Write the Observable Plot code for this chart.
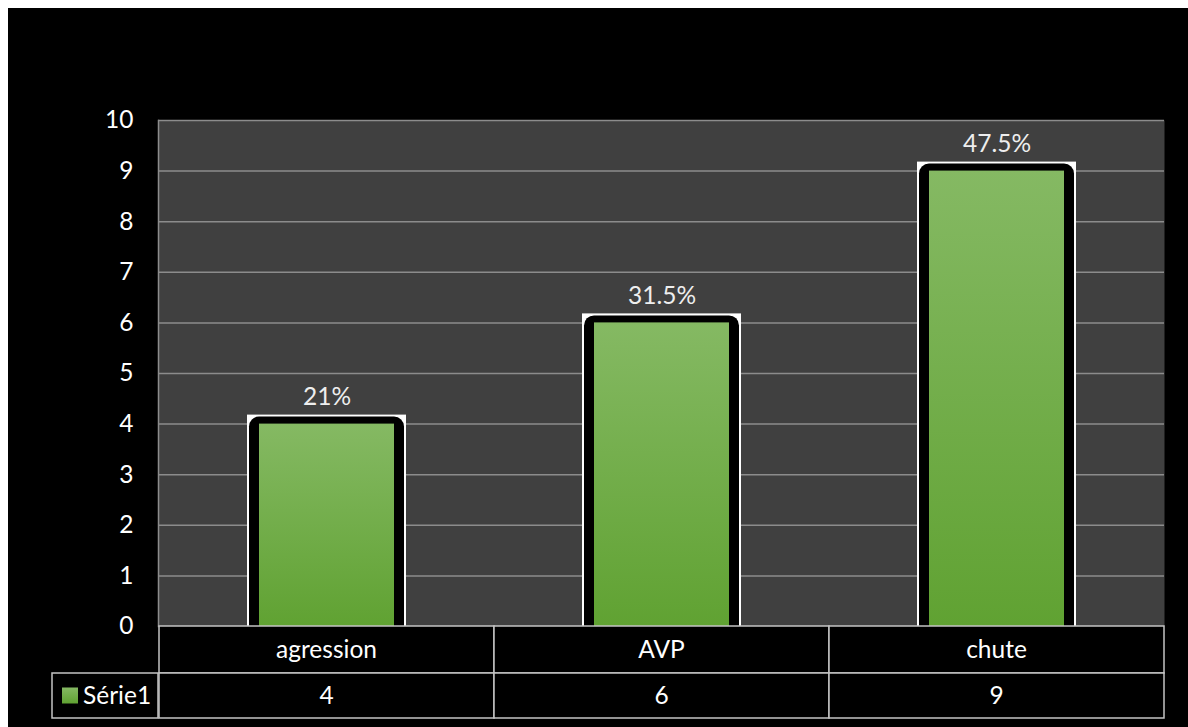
<!DOCTYPE html>
<html><head><meta charset="utf-8">
<script src="https://cdn.jsdelivr.net/npm/d3@7"></script>
<script src="https://cdn.jsdelivr.net/npm/@observablehq/plot@0.6"></script>
<style>
body{margin:0;background:#fff;}
#wrap{padding:8px 0 0 8px;}
svg{display:block}
</style></head><body><div id="wrap"></div>
<script>
const categories = ["agression", "AVP", "chute"];
const values = [4, 6, 9];
const percentLabels = ["21%", "31.5%", "47.5%"];
const yTicks = [0, 1, 2, 3, 4, 5, 6, 7, 8, 9, 10];
const seriesName = "Série1";

const data = categories.map((c, i) => ({category: c, value: values[i], label: percentLabels[i]}));

const FONT = "Lato, 'Open Sans', sans-serif";
const FS = 24.5;
const W = 1180, H = 719;
const mL = 150, mR = 24, mT = 112, mB = 101;
const rowH1 = 47, rowH2 = 45;

const plot = Plot.plot({
  width: W, height: H,
  marginLeft: mL, marginRight: mR, marginTop: mT, marginBottom: mB,
  style: {background: "#000", color: "#fff", fontFamily: FONT, overflow: "visible"},
  x: {domain: categories, padding: 0, axis: null},
  y: {domain: [0, 10], axis: null},
  marks: [
    Plot.frame({fill: "#404040", stroke: null}),
    Plot.ruleY(yTicks.filter(d => d > 0), {stroke: "#8c8c8c", strokeWidth: 1.5}),
    Plot.frame({anchor: "left", stroke: "#8c8c8c", strokeWidth: 1.5}),
    Plot.axisY({ticks: yTicks, tickSize: 0, tickPadding: 25, fontSize: FS, fill: "#fff", label: null, tickFormat: d => String(d)}),
    Plot.rectY(data, {x: "category", y: "value", fill: "#fff", insetLeft: 88, insetRight: 88, insetTop: -9, insetBottom: -20}),
    Plot.rectY(data, {x: "category", y: "value", fill: "#000", insetLeft: 90, insetRight: 90, insetTop: -7, insetBottom: -20, rx: 10}),
    Plot.rectY(data, {x: "category", y: "value", fill: "url(#barGrad)", insetLeft: 100, insetRight: 100}),
    Plot.text(data, {x: "category", y: "value", text: "label", dy: -27, fill: "#eeeeee", fontSize: FS})
  ]
});

document.getElementById("wrap").appendChild(plot);

const svg = d3.select(plot);
const defs = svg.insert("defs", ":first-child");
const g = defs.append("linearGradient").attr("id", "barGrad").attr("x1", 0).attr("y1", 0).attr("x2", 0).attr("y2", 1);
g.append("stop").attr("offset", "0%").attr("stop-color", "#85b963");
g.append("stop").attr("offset", "100%").attr("stop-color", "#60a232");

const xs = plot.scale("x");
const bw = xs.bandwidth;
const y0 = H - mB;
const tbl = svg.append("g").attr("font-family", FONT).attr("font-size", FS).attr("text-anchor", "middle");
const border = "#c4c4c4";

// category row
categories.forEach((c, i) => {
  const x = xs.apply(c);
  tbl.append("rect").attr("x", x).attr("y", y0).attr("width", bw).attr("height", rowH1)
    .attr("fill", "#000").attr("stroke", border).attr("stroke-width", 1.5);
  tbl.append("text").attr("x", x + bw / 2).attr("y", y0 + rowH1 / 2).attr("dy", "0.35em")
    .attr("fill", "#fff").text(c);
});
// values row
const y1 = y0 + rowH1;
categories.forEach((c, i) => {
  const x = xs.apply(c);
  tbl.append("rect").attr("x", x).attr("y", y1).attr("width", bw).attr("height", rowH2)
    .attr("fill", "#000").attr("stroke", border).attr("stroke-width", 1.5);
  tbl.append("text").attr("x", x + bw / 2).attr("y", y1 + rowH2 / 2).attr("dy", "0.35em")
    .attr("fill", "#fff").text(values[i]);
});
// legend cell
const legX = 44;
tbl.append("rect").attr("x", legX).attr("y", y1).attr("width", mL - legX).attr("height", rowH2)
  .attr("fill", "#000").attr("stroke", border).attr("stroke-width", 1.5);
tbl.append("rect").attr("x", legX + 10).attr("y", y1 + rowH2 / 2 - 8).attr("width", 16).attr("height", 16)
  .attr("fill", "url(#barGrad)");
tbl.append("text").attr("x", legX + 31).attr("y", y1 + rowH2 / 2).attr("dy", "0.35em")
  .attr("text-anchor", "start").attr("fill", "#fff").text(seriesName);
</script></body></html>
